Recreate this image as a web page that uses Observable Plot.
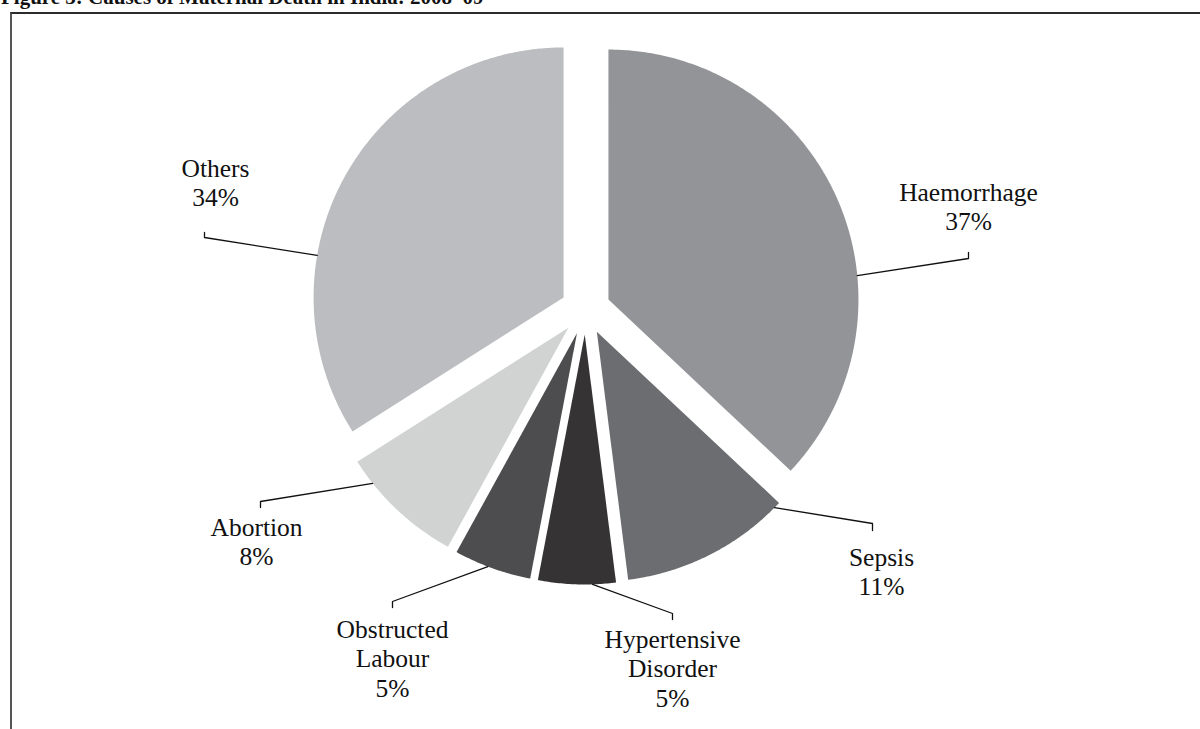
<!DOCTYPE html>
<html><head><meta charset="utf-8">
<script src="https://cdn.jsdelivr.net/npm/d3@7"></script>
<script src="https://cdn.jsdelivr.net/npm/@observablehq/plot@0.6"></script>
<style>
html,body{margin:0;padding:0;background:#fff;}
#wrap{position:relative;width:1200px;height:729px;overflow:hidden;}
#title{position:absolute;left:1px;top:-13px;font:bold 21px/21px "Liberation Serif",serif;color:#111;white-space:nowrap;}
#frame{position:absolute;left:10px;top:12px;width:1300px;height:800px;border-top:2px solid #2b2b2b;border-left:2px solid #555;}
#chart{position:absolute;left:0;top:0;}
</style></head><body>
<div id="wrap"><div id="title">Figure 3: Causes of Maternal Death in India: 2008–09</div><div id="frame"></div><div id="chart"></div></div>
<script>
// ---- data ----
const causes = ["Haemorrhage", "Sepsis", "Hypertensive Disorder", "Obstructed Labour", "Abortion", "Others"];
const shares = [37, 11, 5, 5, 8, 34];
const colors = ["#939497", "#6c6d70", "#353334", "#4d4d4f", "#d1d3d2", "#bcbdc0"];

// ---- layout (pixels relative to pie centre) ----
const leaderAngles = [84.5, 134.7, 178.2, 200.9, 231.5, 279.7];
const elbows = [[383, -51], [287, 214], [87, 304], [-193, 292], [-325, 192], [-381, -72]];
const ticks = [-6, 7, 6, 6, 6, -5];
const labelPos = [[383, -109], [296, 256], [87, 338], [-193, 328], [-329, 226], [-370, -133]];

const W = 1200, H = 729, R = 250, CX = 585, CY = 309;
const explode = 0.1;
const FS = 25.5, LH = 30 / 25.5;

const total = d3.sum(shares);
let acc = 0;
const slices = causes.map((name, i) => {
  const a0 = acc / total * 2 * Math.PI; acc += shares[i];
  const a1 = acc / total * 2 * Math.PI;
  const mid = (a0 + a1) / 2;
  return {name, value: shares[i], a0, a1, ox: explode * Math.sin(mid), oy: explode * Math.cos(mid)};
});
const polyPts = slices.flatMap(s => {
  const pts = [{name: s.name, x: s.ox, y: s.oy}];
  const n = Math.max(2, Math.ceil((s.a1 - s.a0) / (Math.PI / 360)));
  for (let k = 0; k <= n; k++) {
    const a = s.a0 + (s.a1 - s.a0) * k / n;
    pts.push({name: s.name, x: s.ox + Math.sin(a), y: s.oy + Math.cos(a)});
  }
  return pts;
});
const leaderPts = slices.flatMap((s, i) => {
  const a = leaderAngles[i] * Math.PI / 180;
  const [ex, ey] = elbows[i];
  return [
    {name: s.name, x: s.ox + Math.sin(a), y: s.oy + Math.cos(a)},
    {name: s.name, x: ex / R, y: -ey / R},
    {name: s.name, x: ex / R, y: -(ey + ticks[i]) / R}
  ];
});
const labels = slices.map((s, i) => ({
  x: labelPos[i][0] / R, y: -labelPos[i][1] / R,
  text: s.name.replace(" ", "\n") + "\n" + s.value + "%"
}));

const plot = Plot.plot({
  width: W, height: H, margin: 0,
  x: {domain: [-CX / R, (W - CX) / R], range: [0, W], axis: null},
  y: {domain: [-(H - CY) / R, CY / R], range: [H, 0], axis: null},
  color: {domain: causes, range: colors},
  style: {background: "transparent", fontFamily: "'Liberation Serif', serif", overflow: "visible"},
  marks: [
    Plot.line(polyPts, {x: "x", y: "y", z: "name", fill: "name", stroke: "none", curve: "linear-closed"}),
    Plot.line(leaderPts, {x: "x", y: "y", z: "name", stroke: "#111", strokeWidth: 1.3}),
    Plot.text(labels, {x: "x", y: "y", text: "text", fontSize: FS, lineHeight: LH, lineAnchor: "top", dy: -0.71 * LH * FS, fill: "#111"})
  ]
});
document.getElementById("chart").appendChild(plot);
</script>
</body></html>
